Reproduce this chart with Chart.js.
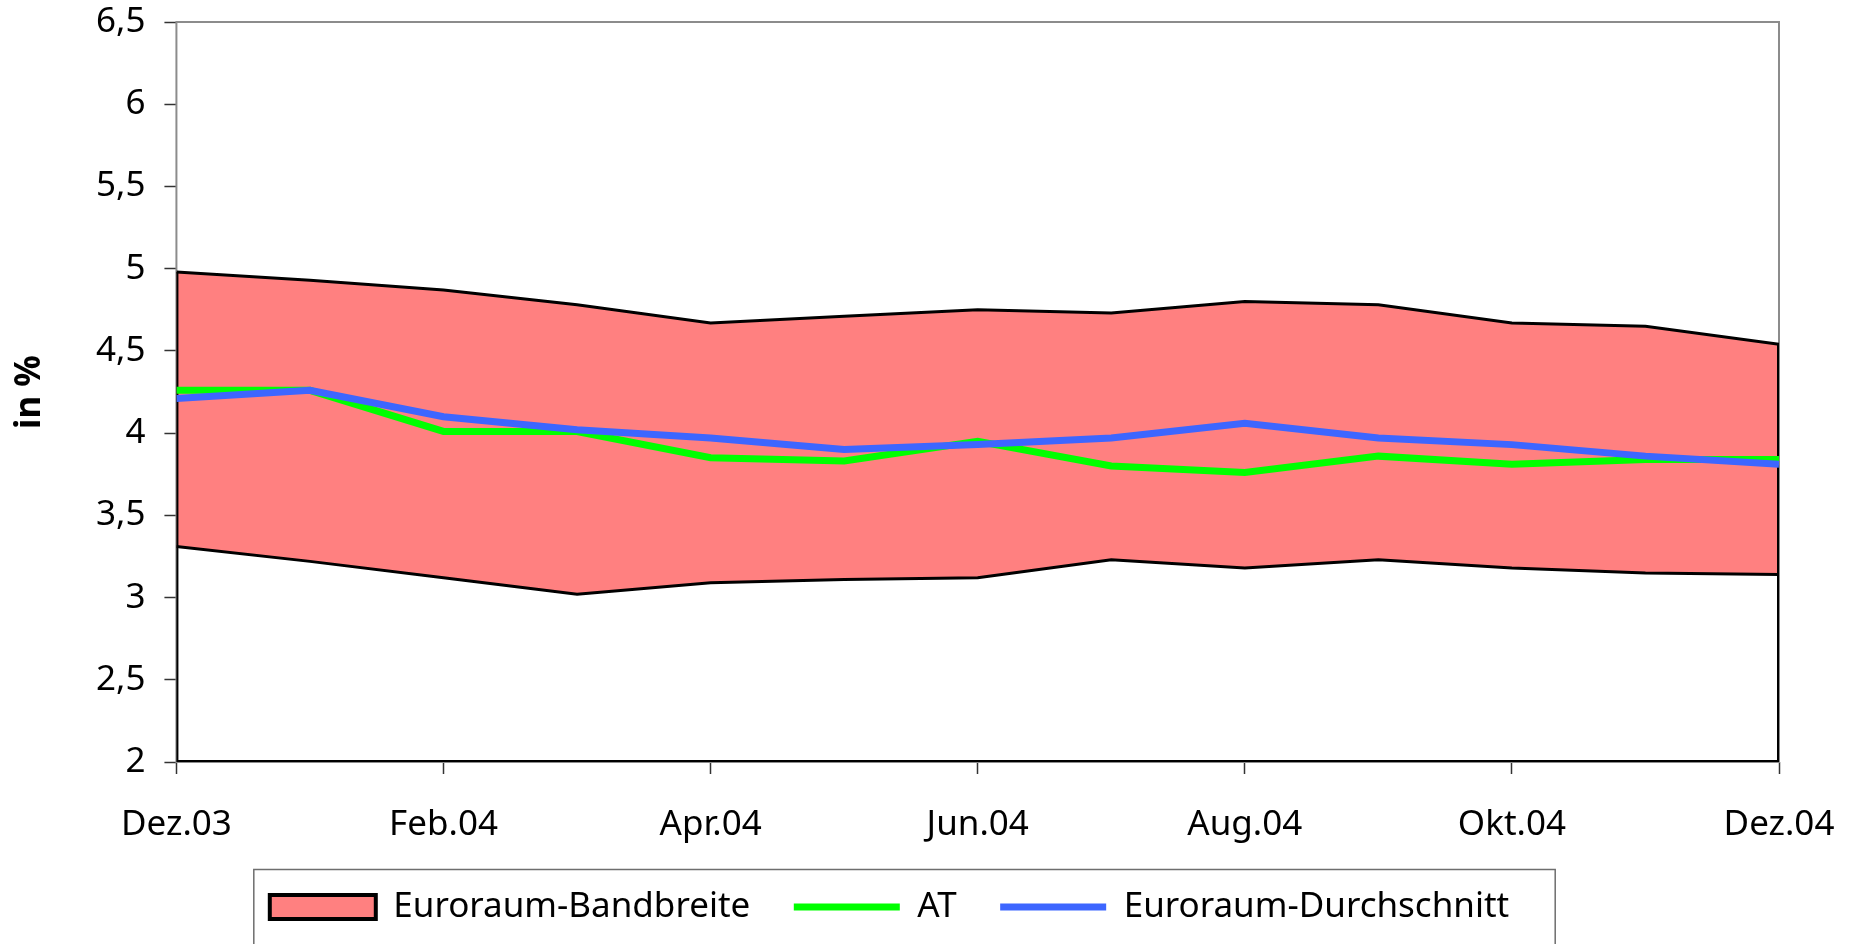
<!DOCTYPE html>
<html>
<head>
<meta charset="utf-8">
<script src="https://cdn.jsdelivr.net/npm/chart.js@4.4.0/dist/chart.umd.min.js"></script>
<style>
  html, body { margin: 0; padding: 0; background: #fff; }
  #wrap { width: 1860px; height: 944px; position: relative; }
</style>
</head>
<body>
<div id="wrap"><canvas id="chart"></canvas></div>
<script>
// values, one per month
const months = ['Dez.03', 'Jan.04', 'Feb.04', 'Mär.04', 'Apr.04', 'Mai.04', 'Jun.04', 'Jul.04', 'Aug.04', 'Sep.04', 'Okt.04', 'Nov.04', 'Dez.04'];
const bandUpper = [4.98, 4.93, 4.87, 4.78, 4.67, 4.71, 4.75, 4.73, 4.80, 4.78, 4.67, 4.65, 4.54];
const bandLower = [3.31, 3.22, 3.12, 3.02, 3.09, 3.11, 3.12, 3.23, 3.18, 3.23, 3.18, 3.15, 3.14];
const atValues = [4.26, 4.26, 4.01, 4.01, 3.85, 3.83, 3.95, 3.80, 3.76, 3.86, 3.81, 3.84, 3.84];
const avgValues = [4.21, 4.26, 4.10, 4.02, 3.97, 3.90, 3.93, 3.97, 4.06, 3.97, 3.93, 3.86, 3.81];
const yMin = 2, yMax = 6.5, yStep = 0.5;
const xStep = 2;

const FONT = 'Noto Sans';
const last = months.length - 1;

function points(values) {
    return values.map((v, i) => ({x: i, y: v}));
}

// frame of the plot area (grey, like the excel plot area)
const plotFrame = {
    id: 'plotFrame',
    beforeDatasetsDraw(chart) {
        const {ctx, chartArea: a} = chart;
        ctx.save();
        ctx.strokeStyle = '#8c8c8c';
        ctx.lineWidth = 2;
        ctx.strokeRect(a.left, a.top, a.right - a.left, a.bottom - a.top);
        ctx.restore();
    }
};

// box round the legend
const legendFrame = {
    id: 'legendFrame',
    afterDraw(chart) {
        const boxes = chart.legend.legendHitBoxes;
        if (!boxes || !boxes.length) return;
        const first = boxes[0];
        const end = boxes[boxes.length - 1];
        const x0 = first.left - 16;
        const x1 = end.left + end.width + 46;
        const ctx = chart.ctx;
        ctx.save();
        ctx.strokeStyle = '#6e6e6e';
        ctx.lineWidth = 1.5;
        ctx.strokeRect(x0, first.top - 20, x1 - x0, chart.height);
        ctx.restore();
    }
};

const chart = new Chart(document.getElementById('chart'), {
    type: 'line',
    data: {
        datasets: [
            {
                label: 'Euroraum-Bandbreite',
                data: points(bandUpper),
                borderColor: '#000',
                borderWidth: 3,
                backgroundColor: '#ff8080',
                fill: '+1',
                legendStyle: 'rect',
                order: 4
            },
            {
                label: 'lower',
                data: points(bandLower),
                borderColor: '#000',
                borderWidth: 3,
                fill: false,
                order: 3
            },
            {
                label: 'outline',
                data: [
                    {x: 0, y: bandUpper[0]},
                    {x: 0, y: yMin},
                    {x: last, y: yMin},
                    {x: last, y: bandUpper[last]}
                ],
                borderColor: '#000',
                borderWidth: 4,
                fill: false,
                order: 2
            },
            {
                label: 'AT',
                data: points(atValues),
                borderColor: '#00ff00',
                backgroundColor: '#00ff00',
                borderWidth: 7,
                fill: false,
                legendStyle: 'line',
                order: 1
            },
            {
                label: 'Euroraum-Durchschnitt',
                data: points(avgValues),
                borderColor: '#3d66ff',
                backgroundColor: '#3d66ff',
                borderWidth: 7,
                fill: false,
                legendStyle: 'line',
                order: 0
            }
        ]
    },
    options: {
        responsive: true,
        maintainAspectRatio: false,
        animation: false,
        events: [],
        layout: {
            padding: {left: 0, right: 81, top: 22, bottom: 9.5}
        },
        elements: {
            point: {radius: 0},
            line: {tension: 0, borderJoinStyle: 'miter'}
        },
        scales: {
            x: {
                type: 'linear',
                min: 0,
                max: last,
                border: {display: false},
                grid: {drawOnChartArea: false, drawTicks: true, tickLength: 12, tickColor: '#333', tickWidth: 1.5},
                ticks: {
                    stepSize: xStep,
                    autoSkip: false,
                    maxRotation: 0,
                    padding: 30,
                    color: '#000',
                    font: {family: FONT, size: 35},
                    callback: (v) => months[v]
                },
                // chart.js counts tick padding twice; fix the band height and the side overhang
                afterFit: (scale) => {
                    scale.height = 84;
                    scale.paddingLeft = 0;
                    scale.paddingRight = 0;
                }
            },
            y: {
                min: yMin,
                max: yMax,
                border: {display: false},
                grid: {drawOnChartArea: false, drawTicks: true, tickLength: 12, tickColor: '#333', tickWidth: 1.5},
                ticks: {
                    stepSize: yStep,
                    padding: 19,
                    color: '#000',
                    font: {family: FONT, size: 35},
                    callback: (v) => String(v).replace('.', ',')
                },
                title: {
                    display: true,
                    text: 'in %',
                    color: '#000',
                    font: {family: FONT, size: 35, weight: 'bold'},
                    padding: {top: 9, bottom: 26}
                },
                afterFit: (scale) => {
                    scale.paddingTop = 0;
                    scale.paddingBottom = 0;
                }
            }
        },
        plugins: {
            tooltip: {enabled: false},
            legend: {
                position: 'bottom',
                labels: {
                    usePointStyle: true,
                    pointStyleWidth: 106,
                    boxHeight: 24,
                    padding: 43.5,
                    color: '#000',
                    font: {family: FONT, size: 35},
                    generateLabels: (chart) => chart.data.datasets
                        .map((ds, i) => ({ds, i}))
                        .filter(({ds}) => ds.legendStyle)
                        .map(({ds, i}) => ({
                            text: ds.label,
                            datasetIndex: i,
                            pointStyle: ds.legendStyle,
                            fillStyle: ds.backgroundColor,
                            strokeStyle: ds.borderColor,
                            lineWidth: ds.legendStyle === 'rect' ? 4 : ds.borderWidth,
                            fontColor: '#000',
                            hidden: false
                        }))
                }
            }
        }
    },
    plugins: [plotFrame, legendFrame]
});
</script>
</body>
</html>
